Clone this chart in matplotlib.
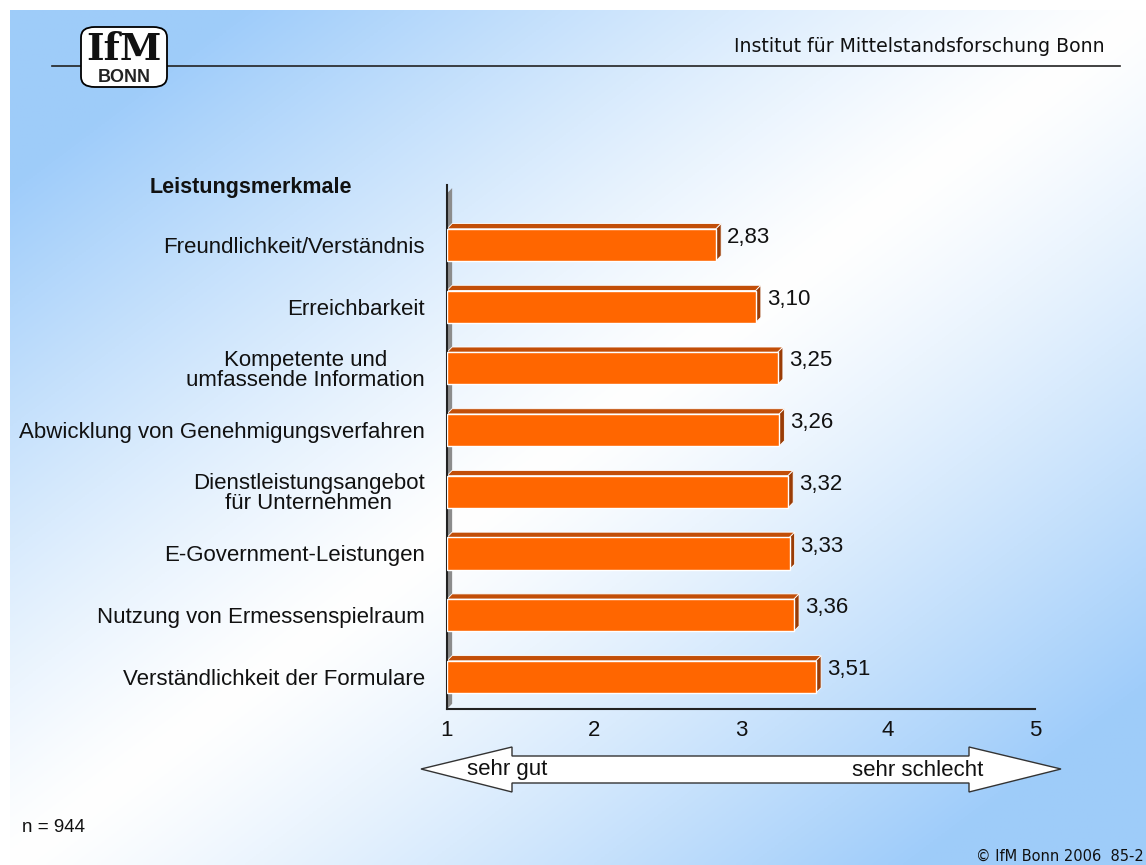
import numpy as np
import matplotlib.pyplot as plt
from matplotlib.patches import Polygon, FancyBboxPatch

# Daten
kategorien = [
    "Freundlichkeit/Verständnis",
    "Erreichbarkeit",
    "Kompetente und\numfassende Information",
    "Abwicklung von Genehmigungsverfahren",
    "Dienstleistungsangebot\nfür Unternehmen",
    "E-Government-Leistungen",
    "Nutzung von Ermessenspielraum",
    "Verständlichkeit der Formulare",
]
werte = [2.83, 3.10, 3.25, 3.26, 3.32, 3.33, 3.36, 3.51]
ticks = [1, 2, 3, 4, 5]

W, H = 1146, 865
fig = plt.figure(figsize=(W / 100, H / 100), dpi=100)
fig.patch.set_facecolor("white")

# Hintergrund: diagonaler Verlauf blau -> weiss -> blau
bg = fig.add_axes([10 / W, 0, 1 - 10 / W, 1 - 10 / H])
bg.set_axis_off()
xx, yy = np.meshgrid(np.linspace(0, 1, 300), np.linspace(0, 1, 300))
t = np.clip(np.abs(xx + yy - 1.0) * 1.25, 0, 1) ** 1.2
blau = np.array([0.62, 0.80, 0.98])
weiss = np.array([1.0, 1.0, 1.0])
img = weiss[None, None, :] * (1 - t[..., None]) + blau[None, None, :] * t[..., None]
bg.imshow(img, extent=[0, 1, 0, 1], aspect="auto", origin="upper")
bg.set_xlim(0, 1)
bg.set_ylim(0, 1)

def fx(px):
    return px / W

def fy(py):
    return 1 - py / H

schrift = "Liberation Sans"

# Kopfzeile
fig.add_artist(plt.Line2D([fx(52), fx(1120)], [fy(66), fy(66)], color="#222222", lw=1.2))
logo = FancyBboxPatch((fx(81), fy(87)), fx(86), 60 / H,
                      boxstyle="round,pad=0,rounding_size=0.012",
                      transform=fig.transFigure, facecolor="white",
                      edgecolor="black", lw=1.3, zorder=5)
fig.add_artist(logo)
fig.text(fx(124), fy(49), "IfM", family="DejaVu Serif", fontsize=27, weight="bold",
         ha="center", va="center", color="#111111", zorder=6)
fig.text(fx(124), fy(78), "BONN", family=schrift, fontsize=13, weight="bold",
         ha="center", va="center", color="#222222", zorder=6)
fig.text(fx(1105), fy(47), "Institut für Mittelstandsforschung Bonn",
         family="DejaVu Sans", fontsize=13.6, ha="right", va="center", color="#111111")

# Diagramm
ax = fig.add_axes([fx(447), fy(709), fx(1035) - fx(447), (709 - 185) / H])
ax.set_facecolor("none")
n = len(werte)
pos = np.arange(n)
h = 0.52
ax.set_xlim(1, 5)
ax.set_ylim(n - 1 + 0.52, -0.97)

dx = 0.035   # Tiefe in x
dy = 0.085   # Tiefe in y

# Wand links
wall = Polygon([(1, n - 1 + 0.52), (1 + dx, n - 1 + 0.52 - dy), (1 + dx, -0.97 + 0.05),
                (1, -0.97 + 0.05 + dy)], closed=True, facecolor="#8c8c8c",
               edgecolor="none", zorder=1)
ax.add_patch(wall)

ax.barh(pos, [v - 1 for v in werte], left=1, height=h, color="#FF6600",
        edgecolor="white", linewidth=1.0, zorder=3)
for i, v in zip(pos, werte):
    oben = i - h / 2
    unten = i + h / 2
    ax.add_patch(Polygon([(1, oben), (1 + dx, oben - dy), (v + dx, oben - dy), (v, oben)],
                         closed=True, facecolor="#C24E08", edgecolor="white", lw=0.6, zorder=2))
    ax.add_patch(Polygon([(v, oben), (v + dx, oben - dy), (v + dx, unten - dy), (v, unten)],
                         closed=True, facecolor="#9A3C06", edgecolor="white", lw=0.6, zorder=2))
    ax.text(v + dx + 0.04, i - 0.12, f"{v:.2f}".replace(".", ","), family=schrift,
            fontsize=16, ha="left", va="center", color="#111111")

ax.set_yticks(pos)
ax.set_yticklabels(kategorien, family=schrift, fontsize=16,
                   multialignment="center", linespacing=0.92, color="#111111")
ax.set_xticks(ticks)
ax.set_xticklabels([str(t) for t in ticks], family=schrift, fontsize=16, color="#111111")
ax.tick_params(axis="both", length=0)
ax.tick_params(axis="y", pad=16)
ax.tick_params(axis="x", pad=8)
for s in ["top", "right"]:
    ax.spines[s].set_visible(False)
ax.spines["left"].set_color("#222222")
ax.spines["left"].set_linewidth(1.5)
ax.spines["bottom"].set_color("#222222")
ax.spines["bottom"].set_linewidth(1.5)

fig.text(fx(352), fy(187), "Leistungsmerkmale", family=schrift, fontsize=15.5,
         weight="bold", ha="right", va="center", color="#111111")

# Doppelpfeil
pts = [(421, 769), (512, 747), (512, 756), (969, 756), (969, 747), (1061, 769),
       (969, 792), (969, 783), (512, 783), (512, 792)]
pfeil = Polygon([(fx(x), fy(y)) for x, y in pts], closed=True, transform=fig.transFigure,
                facecolor="white", edgecolor="#333333", lw=1.0)
fig.add_artist(pfeil)
fig.text(fx(467), fy(770), "sehr gut", family=schrift, fontsize=16,
         ha="left", va="center", color="#111111")
fig.text(fx(983), fy(770), "sehr schlecht", family=schrift, fontsize=16,
         ha="right", va="center", color="#111111")

# Fusszeile
fig.text(fx(22), fy(828), "n = 944", family=schrift, fontsize=13.5,
         ha="left", va="center", color="#111111")
fig.text(fx(1144), fy(856), "© IfM Bonn 2006  85-2", family="DejaVu Sans", fontsize=10.5,
         ha="right", va="center", color="#111111")

fig.savefig("out.png", dpi=100)
